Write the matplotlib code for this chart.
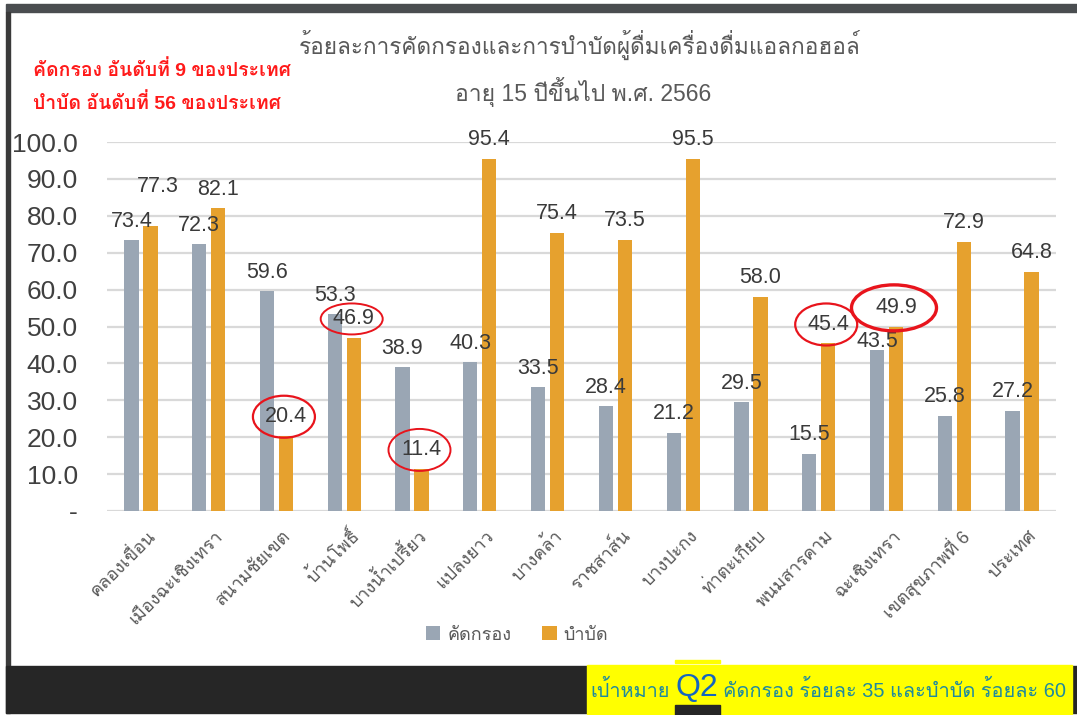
import matplotlib
matplotlib.use("Agg")
import matplotlib.pyplot as plt
import matplotlib.transforms as mtransforms
from matplotlib.patches import Rectangle, Ellipse
import numpy as np

# Loma วางวรรณยุกต์ซ้อนสระได้ถูกต้องโดยไม่ต้องมี shaping
plt.rcParams['font.family'] = ['Liberation Sans', 'Loma']

# ข้อมูล: ร้อยละคัดกรอง / บำบัด ผู้ดื่มแอลกอฮอล์ อายุ 15 ปีขึ้นไป พ.ศ. 2566
categories = ['คลองเขื่อน', 'เมืองฉะเชิงเทรา', 'สนามชัยเขต', 'บ้านโพธิ์', 'บางน้ำเปรี้ยว',
              'แปลงยาว', 'บางคล้า', 'ราชสาส์น', 'บางปะกง', 'ท่าตะเกียบ',
              'พนมสารคาม', 'ฉะเชิงเทรา', 'เขตสุขภาพที่ 6', 'ประเทศ']
screen = [73.4, 72.3, 59.6, 53.3, 38.9, 40.3, 33.5, 28.4, 21.2, 29.5, 15.5, 43.5, 25.8, 27.2]
treat = [77.3, 82.1, 20.4, 46.9, 11.4, 95.4, 75.4, 73.5, 95.5, 58.0, 45.4, 49.9, 72.9, 64.8]
yticks = [0, 10, 20, 30, 40, 50, 60, 70, 80, 90, 100]
ytick_labels = ['-'] + ['%.1f' % v for v in yticks[1:]]
series_names = ['คัดกรอง', 'บำบัด']

# ค่าที่ถูกวงกลมสีแดงในภาพต้นฉบับ (index, ความหนาเส้น)
circled = [(2, 1.6), (3, 1.4), (4, 1.4), (10, 1.6), (11, 2.4)]

W, H = 1077, 715
fig = plt.figure(figsize=(W / 100, H / 100), dpi=100)
fig.patch.set_facecolor('white')

def fx(x): return x / W
def fy(y): return 1 - y / H

# กรอบหน้าจอ
fig.patches.append(Rectangle((fx(6), fy(12)), fx(W), 8 / H, transform=fig.transFigure,
                             color='#4a4d50', zorder=0))
fig.patches.append(Rectangle((fx(6), fy(713)), 4 / W, 701 / H, transform=fig.transFigure,
                             color='#3a3a3a', zorder=0))
fig.patches.append(Rectangle((fx(6), fy(713)), fx(W), 47 / H, transform=fig.transFigure,
                             color='#262626', zorder=0))

GRAY = '#9aa6b4'
ORANGE = '#e6a12e'
TXT = '#404040'

ax = fig.add_axes([fx(107), fy(511), (1056 - 107) / W, (511 - 142) / H])
x = np.arange(len(categories))
bw = 0.21
off = 0.14
ax.bar(x - off, screen, bw, color=GRAY, label=series_names[0], zorder=2)
ax.bar(x + off, treat, bw, color=ORANGE, label=series_names[1], zorder=2)

ax.set_xlim(-0.5, len(categories) - 0.5)
ax.set_ylim(0, 100)
ax.set_yticks(yticks)
ax.set_yticklabels(ytick_labels, fontsize=19, color=TXT)
ax.yaxis.grid(True, color='#d9d9d9', lw=1.6, zorder=0)
ax.set_axisbelow(True)
for s in ax.spines.values():
    s.set_visible(False)
ax.tick_params(axis='y', length=0, pad=21)
ax.tick_params(axis='x', length=0, pad=6)
ax.set_xticks(x)
ax.set_xticklabels(categories, rotation=45, ha='right', va='center',
                   rotation_mode='anchor', fontsize=13, color='#595959')
shift = mtransforms.ScaledTranslation(12 / 100, -14 / 100, fig.dpi_scale_trans)
for lab in ax.get_xticklabels():
    lab.set_transform(lab.get_transform() + shift)

# ป้ายค่าบนแท่ง
nudge = {('t', 0): (7, 20), ('s', 11): (0, -10)}
for i in range(len(categories)):
    for key, vals, dx in (('s', screen, -off), ('t', treat, off)):
        ox, oy = nudge.get((key, i), (0, 0))
        ax.annotate('%.1f' % vals[i], (i + dx, vals[i]), xytext=(ox, 19 + oy),
                    textcoords='offset pixels', ha='center', va='center',
                    fontsize=15.5, color='#3a3a3a', zorder=4, annotation_clip=False)

px_x = (1056 - 107) / len(categories)
px_y = (511 - 142) / 100
for i, lw in circled:
    wpx = 85 if lw > 2 else 62
    hpx = 46 if lw > 2 else 42
    if i == 3:
        hpx = 31
    e = Ellipse((i + off - 0.03, treat[i] + 19 / px_y), wpx / px_x, hpx / px_y,
                fill=False, ec='#e8141c', lw=lw, zorder=5, clip_on=False)
    ax.add_patch(e)

leg = ax.legend(loc='center', bbox_to_anchor=(fx(517), fy(635)),
                bbox_transform=fig.transFigure, ncol=2, frameon=False, fontsize=13,
                handlelength=0.8, handleheight=0.8, handletextpad=0.4, columnspacing=1.7)
for t in leg.get_texts():
    t.set_color('#595959')

# หัวเรื่อง
fig.text(fx(580), fy(45), 'ร้อยละการคัดกรองและการบำบัดผู้ดื่มเครื่องดื่มแอลกอฮอล์',
         ha='center', va='center', fontsize=16.3, color='#595959')
fig.text(fx(583), fy(92), 'อายุ 15 ปีขึ้นไป พ.ศ. 2566',
         ha='center', va='center', fontsize=16.5, color='#595959')
fig.text(fx(33), fy(70), 'คัดกรอง อันดับที่ 9 ของประเทศ', ha='left', va='center',
         fontsize=14, color='#ff1a1a', fontweight='bold')
fig.text(fx(33), fy(103), 'บำบัด อันดับที่ 56 ของประเทศ', ha='left', va='center',
         fontsize=14, color='#ff1a1a', fontweight='bold')

# กล่องเป้าหมาย
fig.patches.append(Rectangle((fx(587), fy(714)), (1072 - 587) / W, 49 / H,
                             transform=fig.transFigure, color='#ffff00', zorder=1))
fig.patches.append(Rectangle((fx(675), fy(663)), 45 / W, 3 / H,
                             transform=fig.transFigure, color='#ffff00', zorder=1))
fig.patches.append(Rectangle((fx(675), fy(715)), 45 / W, 10 / H,
                             transform=fig.transFigure, color='#262626', zorder=2))
fig.text(fx(590), fy(690), 'เป้าหมาย', ha='left', va='center', fontsize=14.3, color='#1f8a9e')
fig.text(fx(697), fy(688), 'Q2', ha='center', va='center', fontsize=23, color='#1565c0')
fig.text(fx(723), fy(690), 'คัดกรอง ร้อยละ 35 และบำบัด ร้อยละ 60', ha='left', va='center',
         fontsize=14.4, color='#1f8a9e')

fig.savefig('out.png', dpi=100)
